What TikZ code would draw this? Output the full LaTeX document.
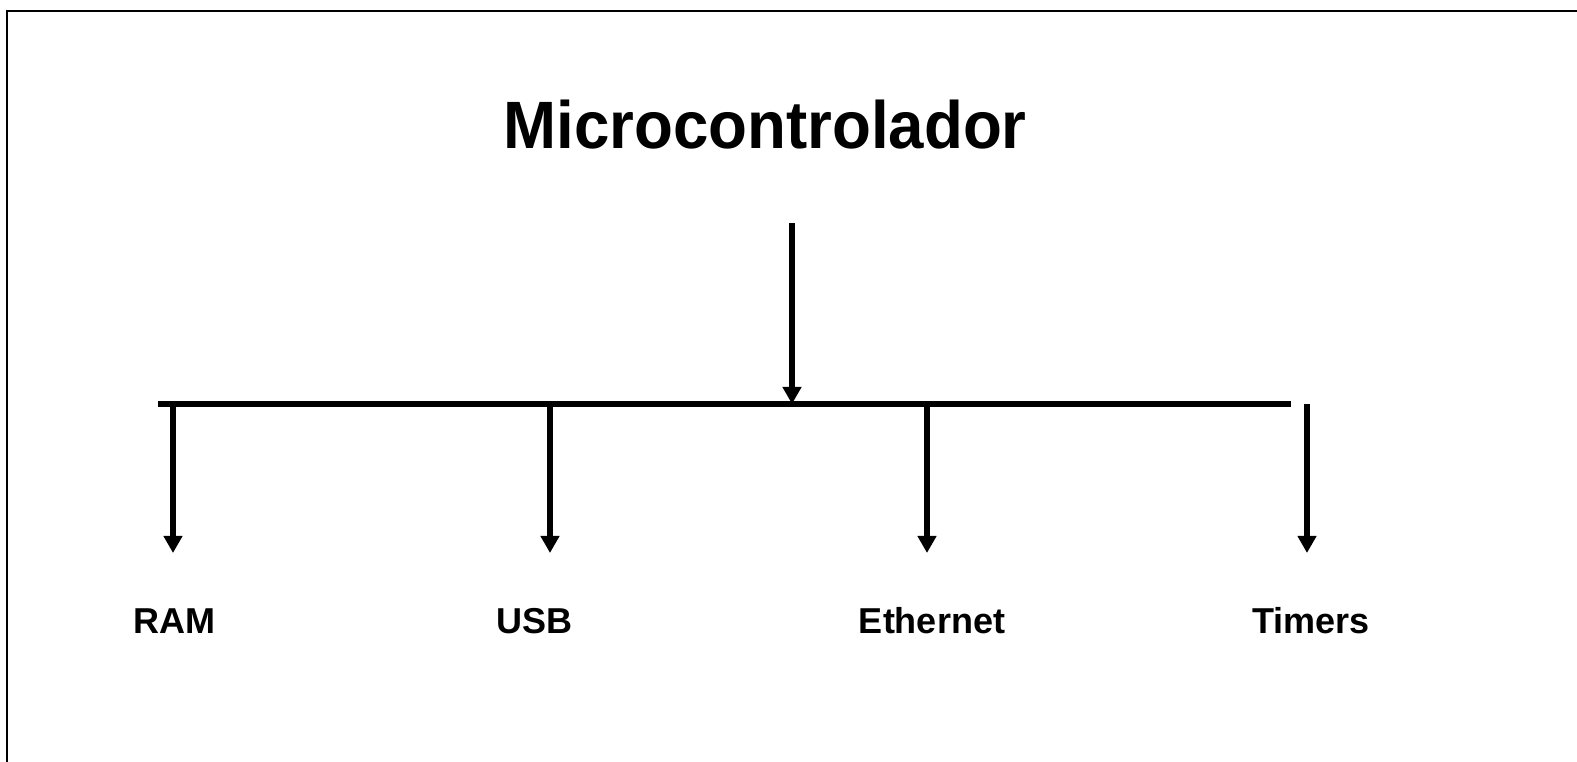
\documentclass[tikz,border=0pt]{standalone}
\usepackage{fontspec}
\setmainfont{Liberation Sans}
\usetikzlibrary{arrows.meta}
\tikzset{
  wire/.style={line width=5.5pt},
  feed/.style={wire, -{Triangle[width=18pt,length=17pt]}},
  label/.style={font=\bfseries\fontsize{36}{40}\selectfont, anchor=base, inner sep=0pt},
  title/.style={font=\bfseries\fontsize{67}{80}\selectfont, anchor=base, inner sep=0pt}
}
\begin{document}
\begin{tikzpicture}[x=1pt,y=1pt]
  \useasboundingbox (0,0) rectangle (1577,762);
  % frame (left and top edges)
  \draw[line width=2pt] (6.5,-2) -- (6.5,750.5) -- (1580,750.5);

  % title
  \node[title] (mcu) at (765,613) {\scalebox{0.95}[1]{Microcontrolador}};

  % bus
  \coordinate (busL) at (158,358);
  \coordinate (busR) at (1291,358);
  \coordinate (feedTop) at (792,539);
  \coordinate (feedEnd) at (792,358);
  \draw[wire] (busL) -- (busR);
  \draw[feed] (feedTop) -- (feedEnd);

  % branches
  \coordinate (b1) at (173,358);
  \coordinate (b2) at (550,358);
  \coordinate (b3) at (927,358);
  \coordinate (b4) at (1307,358);
  \coordinate (t1) at (173,209);
  \coordinate (t2) at (550,209);
  \coordinate (t3) at (927,209);
  \coordinate (t4) at (1307,209);
  \foreach \i in {1,2,3,4} \draw[feed] (b\i) -- (t\i);

  % peripherals
  \node[label] (ram) at (174.5,128.5) {RAM};
  \node[label] (usb) at (534.5,128.5) {USB};
  \node[label] (eth) at (932,128.5) {Ethernet};
  \node[label] (tim) at (1311,128.5) {Timers};
\end{tikzpicture}
\end{document}
